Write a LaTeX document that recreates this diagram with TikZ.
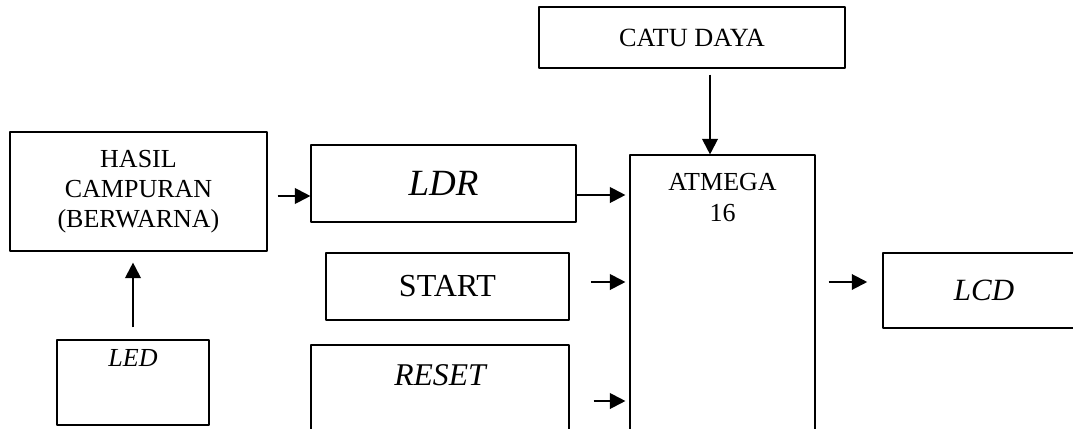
\documentclass[tikz,border=0pt]{standalone}
\usepackage{fontspec}
\setmainfont{Liberation Serif}
\usepackage{tikz}
\usetikzlibrary{arrows.meta}
\tikzset{
  every picture/.style={line join=round, >={Triangle[length=11pt,width=11pt]}},
  blok/.style={draw, line width=0.8pt},
  tebal/.style={line width=1.1pt},
  arr/.style={->, line width=1.5pt},
}

\begin{document}
\begin{tikzpicture}
\path[use as bounding box, clip](0,0) rectangle (26.825,10.7);
% blok
\node[blok, minimum width=6.425cm, minimum height=2.975cm, align=center, font=\fontsize{18.5}{21.3}\selectfont] (hasil) at (3.4625,5.9125) {HASIL\\CAMPURAN\\(BERWARNA)};
\node[blok, minimum width=3.8cm, minimum height=2.125cm] (led) at (3.325,1.1375) {};
\node[anchor=north, inner sep=0pt, font=\fontsize{18.5}{22}\selectfont\itshape] (ledtxt) at ([yshift=-0.25cm]led.north) {LED};
\node[blok, minimum width=6.625cm, minimum height=1.925cm, font=\fontsize{26.3}{31}\selectfont\itshape] (ldr) at (11.0875,6.1125) {LDR};
\node[blok, minimum width=7.65cm, minimum height=1.525cm, font=\fontsize{18.7}{22}\selectfont] (catu) at (17.3,9.7625) {CATU DAYA};
\node[blok, minimum width=4.625cm, minimum height=7.875cm] (atmega) at (18.0625,2.8875) {};
\node[anchor=north, inner sep=0pt, align=center, font=\fontsize{18.5}{22.2}\selectfont] (atmegatxt) at ([yshift=-0.4625cm]atmega.north) {ATMEGA\\16};
\node[blok, tebal, minimum width=6.075cm, minimum height=1.675cm, font=\fontsize{22.8}{27}\selectfont] (start) at (11.1875,3.5375) {START};
\node[blok, minimum width=6.45cm, minimum height=3.125cm] (reset) at (11.0,0.5125) {};
\node[anchor=north, inner sep=0pt, font=\fontsize{22.5}{27}\selectfont\itshape] (resettxt) at ([yshift=-0.5cm]reset.north) {RESET};
\node[blok, tebal, minimum width=5.05cm, minimum height=1.875cm, font=\fontsize{22}{26}\selectfont\itshape] (lcd) at (24.6,3.4375) {LCD};
% panah
\draw[arr, shorten <=0.3cm, shorten >=0.275cm] (led.north) -- (led.north |- hasil.south);
\draw[arr, shorten <=0.25cm] (hasil.east |- 0,5.8) -- (ldr.west |- 0,5.8);
\draw[arr, shorten >=0.1cm] (ldr.east |- 0,5.825) -- (atmega.west |- 0,5.825);
\draw[arr, shorten <=0.525cm, shorten >=0.1cm] (start.east |- 0,3.65) -- (atmega.west |- 0,3.65);
\draw[arr, shorten <=0.6cm, shorten >=0.1cm] (reset.east |- 0,0.675) -- (atmega.west |- 0,0.675);
\draw[arr, shorten <=0.325cm, shorten >=0.375cm] (atmega.east |- 0,3.65) -- (lcd.west |- 0,3.65);
\draw[arr, shorten <=0.15cm] (catu.south -| 17.75,0) -- (atmega.north -| 17.75,0);
\end{tikzpicture}
\end{document}
